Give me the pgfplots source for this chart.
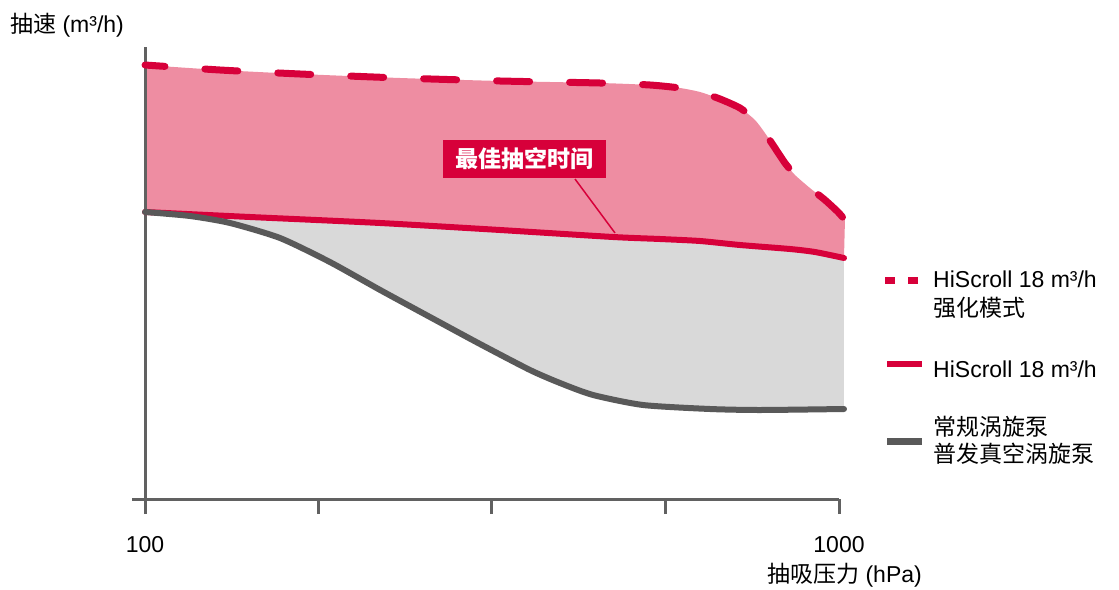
\documentclass[border=0pt]{standalone}
\usepackage{fontspec}
\setmainfont{Liberation Sans}
\newfontfamily\cjk{Noto Sans CJK SC}
\usepackage{pgfplots}
\pgfplotsset{compat=1.18}
\usepgfplotslibrary{fillbetween}

\definecolor{pfred}{HTML}{D7003A}
\definecolor{pfpink}{HTML}{EE8DA2}
\definecolor{pfgrey}{HTML}{D9D9D9}
\definecolor{pfline}{HTML}{595959}
\definecolor{axgrey}{HTML}{616161}

\newcommand{\chartfont}{\fontsize{23}{29}\selectfont}

\begin{document}
\begin{tikzpicture}[font=\chartfont]
\begin{axis}[
    set layers,
    at={(145pt,-499pt)}, anchor=south west,
    width=694pt, height=452pt, scale only axis,
    xmode=log, xmin=100, xmax=1000,
    ymin=0, ymax=452,
    clip=false,
    axis x line*=bottom, axis y line*=left,
    axis line style={-, draw=axgrey, line width=3pt},
    xtick={100,177.83,316.23,562.34,1000},
    xticklabels={100,,,,1000},
    ytick=\empty,
    tick align=outside,
    major tick length=15pt,
    tick style={draw=axgrey, line width=3pt},
    xticklabel style={font=\chartfont, anchor=base, inner sep=0pt, yshift=-38pt},
    /pgf/number format/assume math mode=true,
    fill between/on layer=axis background,
]

% HiScroll 18 boost mode
\addplot[name path=boost, pfred, line width=7pt, line cap=round,
    dash pattern=on 33pt off 40pt, dash phase=13pt, smooth, tension=0.4]
    coordinates {
    (100,434)(128.2,429)(167.3,425)(233.1,421)(324.8,418)(452.5,416)
    (534.2,414)(590.0,411)(630.6,407)(673.9,400)(720.0,391)(756.8,379)
    (782.3,366)(808.6,351)(835.9,336)(864.1,324)(908.1,311)(954.6,299)
    (996.7,287)(1020,279)
    };

% HiScroll 18
\addplot[name path=hiscroll, pfred, line width=6pt, line cap=round,
    smooth, tension=0.4]
    coordinates {
    (100,287)(141.7,282)(218.2,276)(324.8,269)(472.6,262)(552.3,260)
    (630.6,258)(720.0,254)(849.9,250)(923.4,247)(1016.7,241)
    };

% conventional scroll pump
\addplot[name path=conv, pfline, line width=6pt, line cap=round,
    smooth, tension=0.4]
    coordinates {
    (100,287)(116.1,283)(132.6,276)(156.5,261)(184.7,237)(218.2,209)
    (257.4,182)(303.9,155)(358.7,129)(396.3,116)(442.2,104)(521.9,94)
    (651.8,90)(769.4,89)(1016.7,90)
    };

\addplot[pfpink, draw=none] fill between[of=boost and hiscroll];
\addplot[pfgrey, draw=none] fill between[of=hiscroll and conv];

\draw[pfred, line width=1.5pt] (axis cs:416.5,320) -- (axis cs:475.6,266);
\node[fill=pfred, text=white, minimum width=163pt, minimum height=38pt,
    inner sep=0pt, font=\chartfont\cjk\bfseries] at (axis cs:352.3,340) {最佳抽空时间};
\end{axis}

\draw[axgrey, line width=3pt] (132pt,-499pt) -- (146pt,-499pt);

\node[anchor=base west, inner sep=0pt] at (10pt,-32pt) {{\cjk 抽速} (m³/h)};
\node[anchor=base east, inner sep=0pt] at (922pt,-582pt) {{\cjk 抽吸压力} (hPa)};

% legend
\draw[pfred, line width=7pt, dash pattern=on 10pt off 13pt] (885pt,-280pt) -- (918pt,-280pt);
\draw[pfred, line width=6pt] (887pt,-364pt) -- (922pt,-364pt);
\draw[pfline, line width=7pt] (887pt,-441pt) -- (922pt,-441pt);
\node[anchor=base west, inner sep=0pt] at (933pt,-287pt) {HiScroll 18 m³/h};
\node[anchor=base west, inner sep=0pt] at (933pt,-316pt) {\cjk 强化模式};
\node[anchor=base west, inner sep=0pt] at (933pt,-377pt) {HiScroll 18 m³/h};
\node[anchor=base west, inner sep=0pt] at (933pt,-435pt) {\cjk 常规涡旋泵};
\node[anchor=base west, inner sep=0pt] at (933pt,-462pt) {\cjk 普发真空涡旋泵};

\path (0,0) rectangle (1119pt,-589pt);
\end{tikzpicture}
\end{document}
